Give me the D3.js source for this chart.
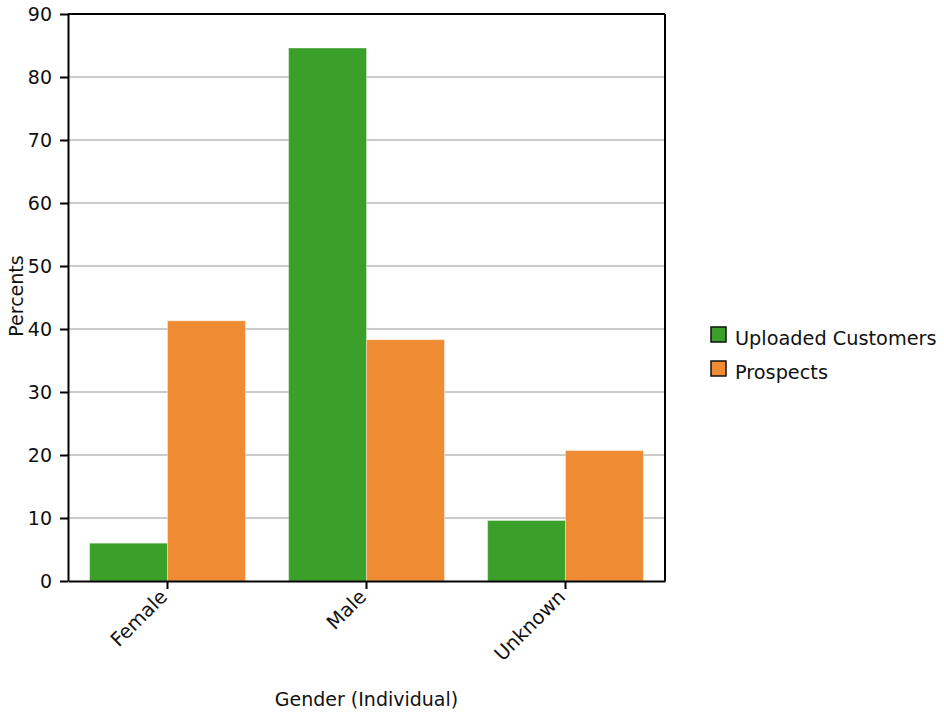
<!DOCTYPE html>
<html><head><meta charset="utf-8">
<script src="https://cdn.jsdelivr.net/npm/d3@7"></script>
<style>body{margin:0;background:#fff}svg{display:block}text{font-family:"DejaVu Sans",sans-serif;fill:#111}</style>
</head><body>
<svg id="c" width="944" height="715"></svg>
<script>
const categories = ["Female", "Male", "Unknown"];
const seriesNames = ["Uploaded Customers", "Prospects"];
const uploaded = [6.0, 84.6, 9.6];
const prospects = [41.3, 38.3, 20.7];
const yTicks = [0,10,20,30,40,50,60,70,80,90];
const colors = ["#3aa02a", "#ee8b33"];

const svg = d3.select("#c");
const L = 68, R = 665, T = 14, B = 581;
const fs = 19;
const x = d3.scaleBand().domain(categories).range([L, R]).paddingInner(0.217).paddingOuter(0.1085);
const xs = d3.scaleBand().domain(seriesNames).range([0, x.bandwidth()]);
const y = d3.scaleLinear().domain([0, 90]).range([B, T]);

// gridlines
svg.append("g").selectAll("line").data(yTicks.filter(d => d > 0 && d < 90)).join("line")
  .attr("x1", L).attr("x2", R).attr("y1", d => y(d)).attr("y2", d => y(d))
  .attr("stroke", "#cbcbcb").attr("stroke-width", 2);

// bars
const data = categories.map((c, i) => ({c, vals: [uploaded[i], prospects[i]]}));
svg.append("g").selectAll("g").data(data).join("g")
  .attr("transform", d => `translate(${x(d.c)},0)`)
  .selectAll("rect").data(d => d.vals.map((v, j) => ({v, s: seriesNames[j], j}))).join("rect")
  .attr("x", d => xs(d.s)).attr("width", xs.bandwidth())
  .attr("y", d => y(d.v)).attr("height", d => B - y(d.v))
  .attr("fill", d => colors[d.j]).attr("stroke", "rgba(255,255,255,0.35)").attr("stroke-width", 1);

// frame top & right
svg.append("line").attr("x1", L).attr("x2", R).attr("y1", T).attr("y2", T).attr("stroke", "#000").attr("stroke-width", 2);
svg.append("line").attr("x1", R).attr("x2", R).attr("y1", T).attr("y2", B).attr("stroke", "#000").attr("stroke-width", 2);

// y axis
const ya = svg.append("g").attr("transform", `translate(${L},0)`)
  .call(d3.axisLeft(y).tickValues(yTicks).tickSize(8).tickPadding(8).tickSizeOuter(0));
ya.select(".domain").attr("stroke", "#000").attr("stroke-width", 2);
ya.selectAll(".tick line").attr("stroke", "#000").attr("stroke-width", 2);
ya.selectAll(".tick text").attr("font-size", fs).attr("font-family", "DejaVu Sans").attr("fill", "#111");

// x axis
const xa = svg.append("g").attr("transform", `translate(0,${B})`)
  .call(d3.axisBottom(x).tickSize(8).tickSizeOuter(0));
xa.select(".domain").attr("stroke", "#000").attr("stroke-width", 2);
xa.selectAll(".tick line").attr("stroke", "#000").attr("stroke-width", 2);
xa.selectAll(".tick text").attr("font-size", fs + 0.5).attr("font-family", "DejaVu Sans").attr("fill", "#111")
  .attr("text-anchor", "end").attr("dy", 0).attr("y", 0)
  .attr("transform", "translate(1,17) rotate(-45)");

// axis titles
svg.append("text").attr("transform", "translate(23,296) rotate(-90)").attr("text-anchor", "middle")
  .attr("font-size", fs).text("Percents");
svg.append("text").attr("x", (L + R) / 2).attr("y", 706).attr("text-anchor", "middle")
  .attr("font-size", fs).text("Gender (Individual)");

// legend
const lg = svg.append("g").selectAll("g").data(seriesNames).join("g")
  .attr("transform", (d, i) => `translate(711,${327 + i * 34})`);
lg.append("rect").attr("width", 15).attr("height", 15).attr("fill", (d, i) => colors[i])
  .attr("stroke", "#111").attr("stroke-width", 1.5);
lg.append("text").attr("x", 24).attr("y", 17.5).attr("font-size", fs + 0.3).text(d => d);
</script>
</body></html>
